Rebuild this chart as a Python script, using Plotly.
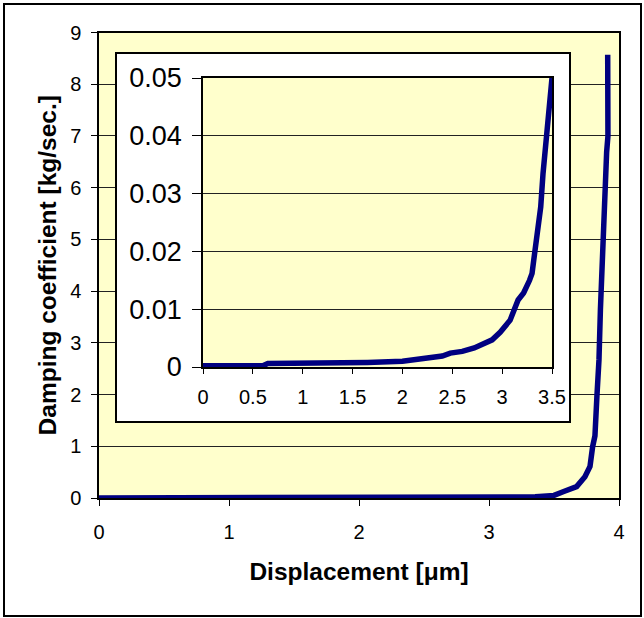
import plotly.graph_objects as go

# ---- data ----
displacement = [0, 0.6, 0.65, 1.55, 1.65, 2.0, 2.1, 2.25, 2.4, 2.48, 2.6, 2.72, 2.8,
                2.9, 2.98, 3.03, 3.08, 3.16, 3.215, 3.275, 3.30, 3.317, 3.355, 3.387,
                3.41, 3.45, 3.5, 3.57, 3.674, 3.738, 3.777, 3.797, 3.815, 3.83, 3.846,
                3.857, 3.867, 3.875, 3.882, 3.892, 3.905, 3.915, 3.913]
damping = [0.0002, 0.0002, 0.0006, 0.0006, 0.0008, 0.0010, 0.0012, 0.0015, 0.0019,
           0.0024, 0.0027, 0.0033, 0.0039, 0.0047, 0.0060, 0.0070, 0.0081, 0.0116,
           0.0128, 0.0150, 0.0162, 0.0185, 0.0231, 0.0277, 0.0335, 0.0416, 0.0500,
           0.12, 0.22, 0.41, 0.61, 0.99, 1.2, 1.96, 2.67, 3.64, 4.4, 4.8, 5.0, 5.52,
           6.69, 7.0, 8.57]
inset_limit = 3.5

x_title = "<b>Displacement [μm]</b>"
y_title = "<b>Damping coefficient [kg/sec.]</b>"

inset_x = [x for x in displacement if x <= inset_limit]
inset_y = [y for x, y in zip(displacement, damping) if x <= inset_limit]

W, H = 644, 618
FONT = "Liberation Sans, Arial, sans-serif"
YELLOW = "#FFFFCC"
NAVY = "#000080"


def dx(a, b):
    return [a / W, b / W]


def dy(top, bottom):
    return [(H - bottom) / H, (H - top) / H]


fig = go.Figure()
fig.add_trace(go.Scatter(x=displacement, y=damping, mode="lines",
                         line=dict(color=NAVY, width=5.5), xaxis="x", yaxis="y",
                         showlegend=False, hoverinfo="skip"))
fig.add_trace(go.Scatter(x=[], y=[], xaxis="x2", yaxis="y2",
                         showlegend=False, hoverinfo="skip"))
fig.add_trace(go.Scatter(x=inset_x, y=inset_y, mode="lines",
                         line=dict(color=NAVY, width=5.5), xaxis="x3", yaxis="y3",
                         showlegend=False, hoverinfo="skip"))

axis_common = dict(showline=True, mirror=True, linecolor="black", ticks="outside",
                   tickcolor="black", zeroline=False, fixedrange=True,
                   automargin=False)

fig.update_layout(
    width=W, height=H, autosize=False,
    margin=dict(l=0, r=0, t=0, b=0, pad=0, autoexpand=False),
    paper_bgcolor="white",
    plot_bgcolor=YELLOW,
    font=dict(family=FONT, color="black"),
    showlegend=False,
    xaxis=dict(domain=dx(99, 619), anchor="y", range=[0, 4], dtick=1,
               showgrid=False, linewidth=1.5, ticklen=6,
               tickfont=dict(size=20), ticklabelstandoff=9,
               title=dict(text=x_title, font=dict(size=24.5), standoff=21),
               **axis_common),
    yaxis=dict(domain=dy(32.5, 498), anchor="x", range=[0, 9], dtick=1,
               showgrid=True, gridcolor="#222222", gridwidth=1, linewidth=1.5,
               ticklen=6, tickfont=dict(size=20), ticklabelstandoff=6,
               title=dict(text=y_title, font=dict(size=24.5), standoff=7),
               **axis_common),
    xaxis2=dict(domain=dx(117, 569), anchor="y2", range=[0, 1], visible=True,
                showline=True, mirror=True, linecolor="black", linewidth=2,
                showticklabels=False, ticks="", showgrid=False, zeroline=False,
                fixedrange=True, automargin=False),
    yaxis2=dict(domain=dy(54, 421), anchor="x2", range=[0, 1], visible=True,
                showline=True, mirror=True, linecolor="black", linewidth=2,
                showticklabels=False, ticks="", showgrid=False, zeroline=False,
                fixedrange=True, automargin=False),
    xaxis3=dict(domain=dx(203, 552), anchor="y3", range=[0, 3.5], dtick=0.5,
                showgrid=False, linewidth=1.5, ticklen=5,
                tickfont=dict(size=20), ticklabelstandoff=6, **axis_common),
    yaxis3=dict(domain=dy(78, 367), anchor="x3", range=[0, 0.05], dtick=0.01,
                showgrid=True, gridcolor="#222222", gridwidth=1, linewidth=1.5,
                ticklen=9, tickfont=dict(size=27), ticklabelstandoff=5,
                **axis_common),
    shapes=[
        dict(type="rect", xref="x2", yref="y2", x0=0, x1=1, y0=0, y1=1,
             fillcolor="white", line=dict(width=0), layer="below"),
        dict(type="rect", xref="paper", yref="paper", x0=4 / W, x1=641 / W,
             y0=(H - 616) / H, y1=(H - 4) / H, fillcolor="rgba(0,0,0,0)",
             line=dict(color="black", width=2), layer="above"),
    ],
)

fig.write_html("out.html", config={"displayModeBar": False},
               post_script="document.body.style.margin='0';")
